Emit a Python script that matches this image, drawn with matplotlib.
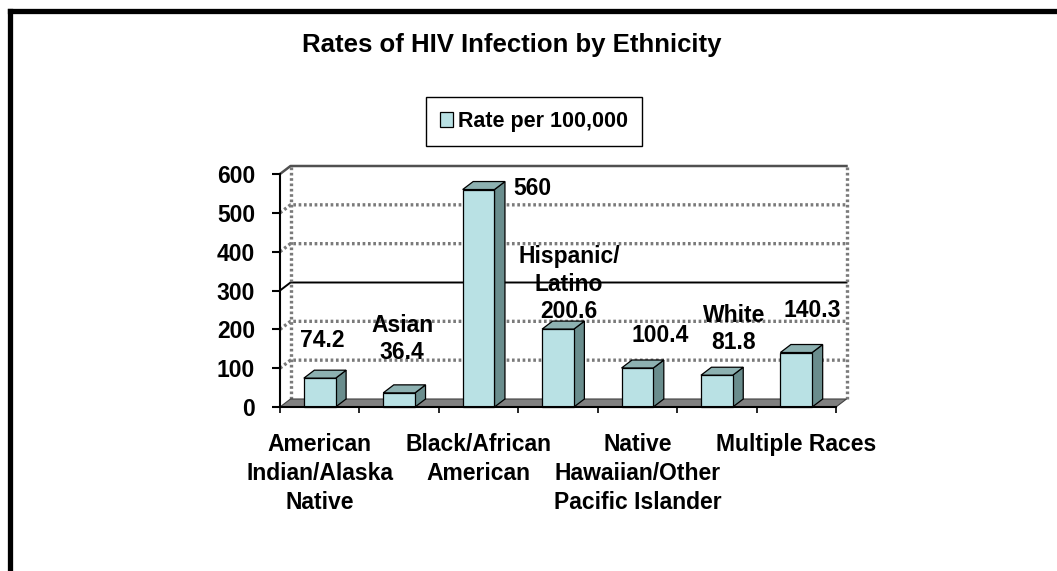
import numpy as np
import matplotlib
matplotlib.use("Agg")
import matplotlib.pyplot as plt
from matplotlib.patches import Polygon
from matplotlib.lines import Line2D

# ---------------- data ----------------
CATEGORIES = [
    "American\nIndian/Alaska\nNative",
    "Asian",
    "Black/African\nAmerican",
    "Hispanic/\nLatino",
    "Native\nHawaiian/Other\nPacific Islander",
    "White",
    "Multiple Races",
]
VALUES = [74.2, 36.4, 560, 200.6, 100.4, 81.8, 140.3]
SERIES_NAME = "Rate per 100,000"
TITLE = "Rates of HIV Infection by Ethnicity"
Y_TICKS = [0, 100, 200, 300, 400, 500, 600]

# ---------------- layout / style ----------------
W, H, DPI = 1057, 571, 100
AX_LEFT_PX, AX_RIGHT_PX, AX_BOTTOM_PX, AX_TOP_PX = 280, 836, 407, 174
DEPTH_PX = (10.5, 8.0)
BAR_WIDTH = 0.4
# label offsets (px right, px up) relative to front-top centre of each bar
LABEL_OFFSETS_PX = [(3, 38), (3, 54), (54, 1), (11, 45), (23, 33), (17, 46), (16, 42)]

FRONT = "#B9E1E4"
SIDE = "#6A8D8D"
TOP = "#8DB1B1"
FLOOR = "#808080"
GRID = "#7a7a7a"
FONT = "Liberation Sans"

plt.rcParams["font.family"] = [FONT, "DejaVu Sans"]
plt.rcParams["font.weight"] = "bold"

fig = plt.figure(figsize=(W / DPI, H / DPI), dpi=DPI)
fig.patch.set_facecolor("white")
ax = fig.add_axes([AX_LEFT_PX / W, (H - AX_BOTTOM_PX) / H,
                   (AX_RIGHT_PX - AX_LEFT_PX) / W, (AX_BOTTOM_PX - AX_TOP_PX) / H])
n = len(CATEGORIES)
x = np.arange(n)
ax.set_xlim(-0.5, n - 0.5)
ax.set_ylim(Y_TICKS[0], Y_TICKS[-1])
ax.set_facecolor("none")

# depth in data units
ppx = (AX_RIGHT_PX - AX_LEFT_PX) / n
ppy = (AX_BOTTOM_PX - AX_TOP_PX) / (Y_TICKS[-1] - Y_TICKS[0])
dxd = DEPTH_PX[0] / ppx
dyd = DEPTH_PX[1] / ppy
x0, x1 = -0.5, n - 0.5
ymax = Y_TICKS[-1]

# back wall gridlines + side wall diagonals
for v in Y_TICKS[1:-1]:
    if v == 300:
        kw = dict(color="black", lw=1.4, ls="-")
    else:
        kw = dict(color=GRID, lw=2.4, ls=(0, (0.8, 0.8)))
    ax.add_line(Line2D([x0, x0 + dxd, x1 + dxd], [v, v + dyd, v + dyd], clip_on=False, zorder=1, **kw))
# back wall vertical edges
for xx in (x0 + dxd, x1 + dxd):
    ax.add_line(Line2D([xx, xx], [dyd, ymax + dyd], color=GRID, lw=2.4, ls=(0, (0.8, 0.8)),
                       clip_on=False, zorder=1))
# top edge of walls
ax.add_line(Line2D([x0, x0 + dxd, x1 + dxd], [ymax, ymax + dyd, ymax + dyd], color="#505050", lw=1.8,
                   clip_on=False, zorder=1))

# floor
floor = Polygon([(x0, 0), (x1, 0), (x1 + dxd, dyd), (x0 + dxd, dyd)], closed=True,
                facecolor=FLOOR, edgecolor="#404040", lw=0.8, clip_on=False, zorder=2)
ax.add_patch(floor)

# bars: front faces via ax.bar, then side/top faces
bars = ax.bar(x, VALUES, width=BAR_WIDTH, color=FRONT, edgecolor="black", lw=0.9,
              label=SERIES_NAME, zorder=4, clip_on=False)
for xi, v in zip(x, VALUES):
    l, r = xi - BAR_WIDTH / 2, xi + BAR_WIDTH / 2
    side = Polygon([(r, 0), (r + dxd, dyd), (r + dxd, v + dyd), (r, v)], closed=True,
                   facecolor=SIDE, edgecolor="black", lw=0.9, clip_on=False, zorder=3)
    top = Polygon([(l, v), (r, v), (r + dxd, v + dyd), (l + dxd, v + dyd)], closed=True,
                  facecolor=TOP, edgecolor="black", lw=0.9, clip_on=False, zorder=3)
    ax.add_patch(side)
    ax.add_patch(top)

# data labels
for i, (xi, v) in enumerate(zip(x, VALUES)):
    txt = f"{v:g}"
    if i % 2 == 1:
        txt = f"{CATEGORIES[i]}\n{txt}"
    ox, oy = LABEL_OFFSETS_PX[i]
    ax.annotate(txt, xy=(xi, v), xytext=(ox * 72 / DPI, oy * 72 / DPI), textcoords="offset points",
                ha="center", va="center", fontsize=16.5, fontweight="bold", zorder=6,
                annotation_clip=False, linespacing=1.25)

# axes spines and ticks
for s in ("top", "right"):
    ax.spines[s].set_visible(False)
for s in ("left", "bottom"):
    ax.spines[s].set_linewidth(1.5)
    ax.spines[s].set_zorder(5)
ax.set_yticks(Y_TICKS)
ax.set_yticklabels([str(t) for t in Y_TICKS], fontsize=16.5, fontweight="bold")
ax.tick_params(axis="y", direction="out", length=6, width=1.5, pad=12)
ax.set_xticks(np.arange(-0.5, n, 1.0))
ax.set_xticklabels([])
ax.tick_params(axis="x", which="major", direction="out", length=4.3, width=1.2)
ax.set_xticks(x, minor=True)
ax.set_xticklabels([c if i % 2 == 0 else "" for i, c in enumerate(CATEGORIES)], minor=True,
                   fontsize=16.5, fontweight="bold", linespacing=1.33)
ax.tick_params(axis="x", which="minor", length=0, pad=19)

# legend
leg = fig.legend(handles=[bars], labels=[SERIES_NAME], loc="center",
                 bbox_to_anchor=(534 / W, 1 - 121.5 / H), frameon=True, fancybox=False,
                 edgecolor="black", framealpha=1, handlelength=0.6, handleheight=0.7,
                 handletextpad=0.25, borderpad=0.65, borderaxespad=0,
                 prop=dict(family=FONT, weight="bold", size=15.5))
leg.get_frame().set_linewidth(1.0)

# title
fig.text(512 / W, 1 - 45 / H, TITLE, ha="center", va="center", fontsize=18.5, fontweight="bold")

# outer border (top and left visible)
bx, by = 9.5 / W, 1 - 10.5 / H
fig.add_artist(Line2D([bx, bx], [0, by], transform=fig.transFigure, color="black", lw=3.8,
                      solid_capstyle="projecting"))
fig.add_artist(Line2D([bx, 1.0], [by, by], transform=fig.transFigure, color="black", lw=3.8,
                      solid_capstyle="projecting"))

fig.savefig("out.png", dpi=DPI)
